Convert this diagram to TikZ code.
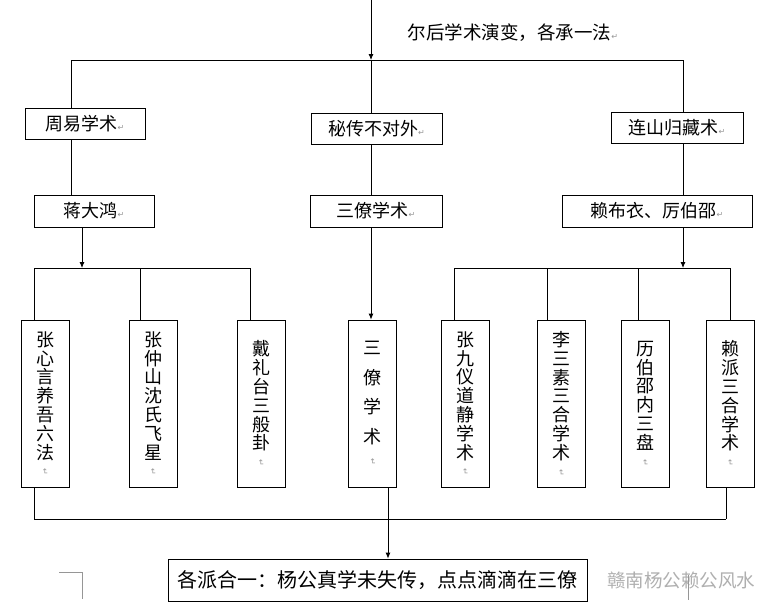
\documentclass[tikz,border=0pt]{standalone}
\usepackage{fontspec}
\setmainfont{Noto Sans CJK SC}
\newfontfamily\symfont{DejaVu Sans}
\usepackage{xcolor}
\usetikzlibrary{arrows.meta,positioning,calc}
\definecolor{markgray}{RGB}{150,150,150}
\definecolor{wmgray}{RGB}{175,175,175}
\newcommand{\pmark}{{\symfont\fontsize{8}{8}\selectfont\color{markgray}↵}}
\newcommand{\vmark}{\rotatebox{-90}{\pmark}}
\tikzset{
  titlebox/.style={draw, line width=0.8pt, minimum height=31pt, inner sep=0pt,
    font=\fontsize{18}{18}\selectfont},
  colbox/.style={draw, line width=0.8pt, minimum width=48pt, minimum height=167pt,
    inner sep=0pt, align=center, font=\fontsize{18}{18.8}\selectfont},
  link/.style={line width=0.8pt},
  flow/.style={link, -{Latex[length=6pt,width=5pt]}}
}
\begin{document}
\begin{tikzpicture}[x=1pt, y=-1pt]
\path[use as bounding box, fill=white] (0,0) rectangle (778,613);

\node[font=\fontsize{18.5}{18.5}\selectfont] (evo) at (513,33) {尔后学术演变，各承一法\pmark};

\node[titlebox, minimum width=120pt] (zhouyi) at (85,123.5) {周易学术\pmark};
\node[titlebox, minimum width=131pt] (michuan) at (376.5,128.5) {秘传不对外\pmark};
\node[titlebox, minimum width=132pt] (lianshan) at (677,127.5) {连山归藏术\pmark};

\node[titlebox, minimum width=120pt, minimum height=32pt] (jiang) at (94,211) {蒋大鸿\pmark};
\node[titlebox, minimum width=132pt, minimum height=32pt] (sanliao) at (376,211) {三僚学术\pmark};
\node[titlebox, minimum width=190pt, minimum height=32pt] (lai) at (657,211) {赖布衣、厉伯邵\pmark};

\node[colbox] (zhangxy) at (45,403.5) {张\\心\\言\\养\\吾\\六\\法\\[-9pt]\vmark};
\node[colbox] (zhangzs) at (153,403.5) {张\\仲\\山\\沈\\氏\\飞\\星\\[-9pt]\vmark};
\node[colbox] (daylt) at (261,403.5) {戴\\礼\\台\\三\\般\\卦\\[-9pt]\vmark};
\node[colbox, font=\fontsize{18}{29.5}\selectfont] (sanliaoxs) at (372.5,403.5) {三\\僚\\学\\术\\[-14pt]\vmark};
\node[colbox] (zhangjy) at (465,403.5) {张\\九\\仪\\道\\静\\学\\术\\[-9pt]\vmark};
\node[colbox] (lisansu) at (561,403.5) {李\\三\\素\\三\\合\\学\\术\\[-9pt]\vmark};
\node[colbox] (libs) at (645,403.5) {历\\伯\\邵\\内\\三\\盘\\[-9pt]\vmark};
\node[colbox] (laipai) at (730,403.5) {赖\\派\\三\\合\\学\\术\\[-9pt]\vmark};

\node[titlebox, minimum width=419pt, minimum height=42pt, font=\fontsize{20}{20}\selectfont]
  (heyi) at (377.5,580) {\raisebox{-5pt}{各派合一：杨公真学未失传，点点滴滴在三僚}};

\node[wmgray, font=\fontsize{18.5}{18.5}\selectfont] (wm) at (681,580) {赣南杨公赖公风水};

\coordinate (top) at (371,0);
\coordinate (fork) at (371,60);
\coordinate (forkL) at (71,60);
\coordinate (forkR) at (683,60);
\draw[flow] (top) -- (fork);
\draw[link] (forkL) -- (forkR);
\draw[link] (forkL) -- (forkL |- zhouyi.north);
\draw[link] (fork) -- (fork |- michuan.north);
\draw[link] (forkR) -- (forkR |- lianshan.north);
\draw[link] (forkL |- zhouyi.south) -- (forkL |- jiang.north);
\draw[link] (fork |- michuan.south) -- (fork |- sanliao.north);
\draw[link] (forkR |- lianshan.south) -- (forkR |- lai.north);

\coordinate (dropL) at (82,268);
\coordinate (dropR) at (683,268);
\draw[flow] (dropL |- jiang.south) -- (dropL);
\draw[flow] (dropR |- lai.south) -- (dropR);
\draw[flow] (fork |- sanliao.south) -- (fork |- sanliaoxs.north);

\foreach \x/\n in {34/zhangxy,140/zhangzs,250/daylt,454/zhangjy,547/lisansu,638/libs,730/laipai}
  {\coordinate (bus-\n) at (\x,268);
   \draw[link] (bus-\n) -- (bus-\n |- \n.north);}
\draw[link] (bus-zhangxy) -- (bus-daylt);
\draw[link] (bus-zhangjy) -- (bus-laipai);

\coordinate (joinL) at (34,519);
\coordinate (joinM) at (388,519);
\coordinate (joinR) at (726,519);
\draw[link] (joinL |- zhangxy.south) -- (joinL);
\draw[link] (joinM |- sanliaoxs.south) -- (joinM);
\draw[link] (joinR |- laipai.south) -- (joinR);
\draw[link] (joinL) -- (joinR);
\draw[flow] (joinM) -- (joinM |- heyi.north);

\draw[markgray, line width=0.8pt] (59,572) -- (82,572) -- (82,599);
\draw[markgray, line width=0.8pt] (688,575) -- (688,600);
\end{tikzpicture}
\end{document}
